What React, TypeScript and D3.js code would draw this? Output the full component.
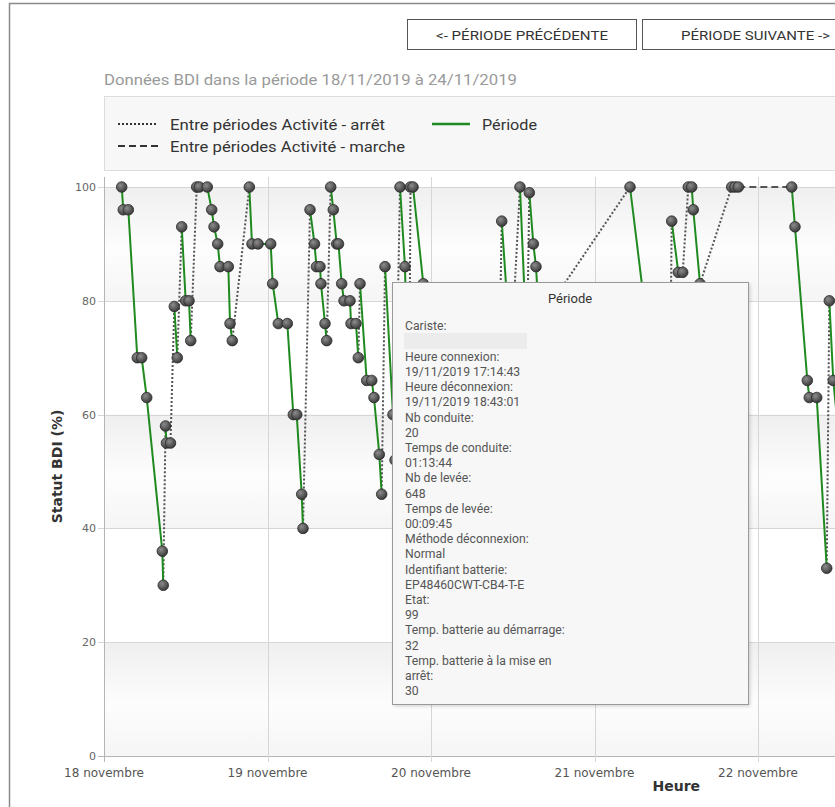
import React from 'react';
import * as d3 from 'd3';

// ---------- DATA ----------
const startDate = new Date(2019, 10, 18, 0, 0, 0);
const dayLabels = ['18 novembre', '19 novembre', '20 novembre', '21 novembre', '22 novembre'];
const yTickValues = [0, 20, 40, 60, 80, 100];

// each period: [hours since 18/11/2019 00:00, BDI %]
const period01: [number, number][] = [[2.60, 100], [2.83, 96], [3.57, 96], [4.89, 70], [5.53, 70], [6.27, 63], [8.56, 36], [8.70, 30]];
const period02: [number, number][] = [[9.03, 58], [9.17, 55], [9.76, 55]];
const period03: [number, number][] = [[10.32, 79], [10.76, 70]];
const period04: [number, number][] = [[11.41, 93], [11.99, 80], [12.48, 80], [12.73, 73]];
const period05: [number, number][] = [[13.61, 100], [13.99, 100], [15.16, 100], [15.81, 96], [16.15, 93], [16.69, 90], [17.03, 86], [18.25, 86], [18.50, 76], [18.83, 73]];
const period06: [number, number][] = [[21.33, 100], [21.72, 90], [22.61, 90], [24.47, 90], [24.76, 83], [25.59, 76], [26.91, 76], [27.79, 60], [28.29, 60], [29.02, 46], [29.21, 40]];
const period07: [number, number][] = [[30.24, 96], [30.90, 90], [31.19, 86], [31.71, 86], [31.85, 83], [32.44, 76], [32.69, 73]];
const period08: [number, number][] = [[33.28, 100], [33.66, 96], [34.16, 90], [34.42, 90], [34.89, 83], [35.23, 80], [36.11, 80], [36.26, 76], [36.99, 76], [37.33, 70]];
const period09: [number, number][] = [[37.58, 83], [38.56, 66], [39.30, 66], [39.63, 63], [40.41, 53], [40.76, 46]];
const period10: [number, number][] = [[41.25, 86], [42.42, 60], [42.72, 52]];
const period11: [number, number][] = [[43.45, 100], [44.18, 86], [44.77, 55]];
const period12: [number, number][] = [[44.99, 100], [45.36, 100], [46.87, 83], [49.32, 40]];
const period13: [number, number][] = [[51.52, 78], [57.69, 45]];
const period14: [number, number][] = [[58.38, 94], [59.74, 70]];
const period15: [number, number][] = [[61.06, 100], [62.09, 71]];
const period16: [number, number][] = [[62.43, 99], [63.02, 90], [63.41, 86], [63.71, 80], [65.32, 79]];
const period17: [number, number][] = [[77.21, 100], [82.94, 44]];
const period18: [number, number][] = [[83.33, 94], [84.30, 85], [84.95, 85]];
const period19: [number, number][] = [[85.77, 100], [86.27, 100], [86.50, 96], [87.49, 83]];
const period20: [number, number][] = [[92.14, 100], [92.62, 100], [93.11, 100]];
const period21: [number, number][] = [[100.95, 100], [101.43, 93], [103.24, 66], [103.53, 63], [104.62, 63], [106.09, 33]];
const period22: [number, number][] = [[106.47, 80], [107.05, 66], [108.77, 45]];

const periods = [period01, period02, period03, period04, period05, period06, period07, period08, period09, period10, period11,
  period12, period13, period14, period15, period16, period17, period18, period19, period20, period21, period22];

// link between period i and i+1 : 'arret' (dotted) or 'marche' (dashed)
const gapTypes = ['arret', 'arret', 'arret', 'arret', 'arret', 'arret', 'arret', 'arret', 'arret', 'arret', 'arret',
  'arret', 'arret', 'arret', 'arret', 'arret', 'arret', 'arret', 'arret', 'marche', 'arret'];

const tooltipLines = [
  'Cariste:', '', 'Heure connexion:', '19/11/2019 17:14:43', 'Heure déconnexion:', '19/11/2019 18:43:01',
  'Nb conduite:', '20', 'Temps de conduite:', '01:13:44', 'Nb de levée:', '648', 'Temps de levée:', '00:09:45',
  'Méthode déconnexion:', 'Normal', 'Identifiant batterie:', 'EP48460CWT-CB4-T-E', 'Etat:', '99',
  'Temp. batterie au démarrage:', '32', 'Temp. batterie à la mise en', 'arrêt:', '30',
];

const titleText = 'Données BDI dans la période 18/11/2019 à 24/11/2019';
const legendArret = 'Entre périodes Activité - arrêt';
const legendMarche = 'Entre périodes Activité - marche';
const legendPeriode = 'Période';
const btnPrev = '<- PÉRIODE PRÉCÉDENTE';
const btnNext = 'PÉRIODE SUIVANTE ->';

// ---------- CHART ----------
const hoursToDate = (h: number) => new Date(startDate.getTime() + h * 3600 * 1000);

export default function App() {
  const W = 835, H = 807;
  const plotL = 104, plotR = 1248.5, plotT = 177, plotB = 756;
  const x = d3.scaleTime().domain([startDate, hoursToDate(24 * 7)]).range([plotL, plotR]);
  const y = d3.scaleLinear().domain([0, 100]).range([plotB, 187]);
  const px = (d: [number, number]) => x(hoursToDate(d[0]));
  const py = (d: [number, number]) => y(d[1]);
  const line = d3.line<[number, number]>().x(px).y(py);

  const gaps = gapTypes.map((t, i) => {
    const a = periods[i][periods[i].length - 1];
    const b = periods[i + 1][0];
    return { t, a, b };
  });

  const bands = [[80, 100], [40, 60], [0, 20]];
  const dayTicks = d3.range(0, 8).map(i => hoursToDate(i * 24));

  const sans = 'Roboto, "Open Sans", sans-serif';
  const axisFont = '"DejaVu Sans", Verdana, sans-serif';

  const tipX = 392, tipY = 282, tipW = 356, tipH = 422;
  const lineStart = 326, lineStep = 15.2;

  return (
    <svg width={W} height={H} style={{ position: 'absolute', left: 0, top: 0, background: '#fff' }}>
      <defs>
        <linearGradient id="band" x1="0" y1="0" x2="0" y2="1">
          <stop offset="0" stopColor="#efefef" />
          <stop offset="0.55" stopColor="#fdfdfd" />
          <stop offset="1" stopColor="#f5f5f5" />
        </linearGradient>
        <radialGradient id="dot" cx="0.38" cy="0.35" r="0.7">
          <stop offset="0" stopColor="#8c8c8c" />
          <stop offset="1" stopColor="#343434" />
        </radialGradient>
        <clipPath id="plotClip">
          <rect x={plotL} y={plotT - 8} width={plotR - plotL + 8} height={plotB - plotT + 16} />
        </clipPath>
        <filter id="shadow" x="-5%" y="-5%" width="115%" height="115%">
          <feDropShadow dx="1.5" dy="1.5" stdDeviation="1.5" floodColor="#000" floodOpacity="0.15" />
        </filter>
      </defs>

      {/* page container border */}
      <rect x={9.5} y={3.5} width={2000} height={2000} fill="none" stroke="#8a8a8a" strokeWidth={1.5} />

      {/* buttons */}
      <rect x={407.5} y={19.5} width={229} height={30} fill="#fff" stroke="#555" strokeWidth={1} />
      <text x={522} y={39.5} textAnchor="middle" fontFamily={sans} fontSize={13} fill="#333"
        textLength={172} lengthAdjust="spacingAndGlyphs">{btnPrev}</text>
      <rect x={642.5} y={19.5} width={227} height={30} fill="#fff" stroke="#555" strokeWidth={1} />
      <text x={755.5} y={39.5} textAnchor="middle" fontFamily={sans} fontSize={13} fill="#333"
        textLength={149} lengthAdjust="spacingAndGlyphs">{btnNext}</text>

      {/* title */}
      <text x={104} y={85} fontFamily={sans} fontSize={15.5} fill="#9a9a9a"
        textLength={413} lengthAdjust="spacingAndGlyphs">{titleText}</text>

      {/* legend */}
      <rect x={104.5} y={96.5} width={1143} height={74} fill="#f7f7f7" stroke="#dcdcdc" strokeWidth={1} />
      <line x1={118} x2={158} y1={124} y2={124} stroke="#333" strokeWidth={2} strokeDasharray="2,2" />
      <text x={170} y={129.5} fontFamily={sans} fontSize={15.5} fill="#333"
        textLength={215} lengthAdjust="spacingAndGlyphs">{legendArret}</text>
      <line x1={432} x2={470} y1={124} y2={124} stroke="#1f8a1f" strokeWidth={2.5} />
      <text x={482} y={129.5} fontFamily={sans} fontSize={15.5} fill="#333"
        textLength={55} lengthAdjust="spacingAndGlyphs">{legendPeriode}</text>
      <line x1={118} x2={158} y1={146} y2={146} stroke="#333" strokeWidth={2} strokeDasharray="7,4" />
      <text x={170} y={151.5} fontFamily={sans} fontSize={15.5} fill="#333"
        textLength={235} lengthAdjust="spacingAndGlyphs">{legendMarche}</text>

      {/* plot background */}
      <rect x={plotL} y={plotT} width={plotR - plotL} height={plotB - plotT} fill="#fff" />
      {bands.map(([a, b]) => (
        <rect key={a} x={plotL} y={y(b)} width={plotR - plotL} height={y(a) - y(b)} fill="url(#band)" />
      ))}
      {yTickValues.map(v => (
        <line key={v} x1={plotL - 6} x2={plotR} y1={Math.round(y(v)) + 0.5} y2={Math.round(y(v)) + 0.5}
          stroke={v === 0 ? '#b5b5b5' : '#d6d6d6'} strokeWidth={1} />
      ))}
      {dayTicks.map((d, i) => (
        <line key={i} x1={Math.round(x(d)) + 0.5} x2={Math.round(x(d)) + 0.5} y1={plotT} y2={plotB + 6}
          stroke={i === 0 ? '#b5b5b5' : '#d6d6d6'} strokeWidth={1} />
      ))}
      <line x1={plotL + 0.5} x2={plotL + 0.5} y1={plotT} y2={plotB} stroke="#b5b5b5" strokeWidth={1} />

      {/* y labels */}
      {yTickValues.map(v => (
        <text key={v} x={96} y={y(v) + 4} textAnchor="end" fontFamily={axisFont} fontSize={11} fill="#666">{v}</text>
      ))}
      {/* x labels (those inside the visible frame) */}
      {dayLabels.map((lab, i) => (
        <text key={i} x={x(dayTicks[i])} y={777} textAnchor="middle" fontFamily={axisFont} fontSize={12} fill="#555">{lab}</text>
      ))}
      <text transform={`translate(62,${(plotT + plotB) / 2}) rotate(-90)`} textAnchor="middle"
        fontFamily={axisFont} fontWeight="bold" fontSize={14} fill="#333">Statut BDI (%)</text>
      <text x={(plotL + plotR) / 2} y={791} textAnchor="middle" fontFamily={axisFont} fontWeight="bold"
        fontSize={14} fill="#333">Heure</text>

      {/* series */}
      <g clipPath="url(#plotClip)">
        {gaps.map((g, i) => (
          <line key={'g' + i} x1={px(g.a)} y1={py(g.a)} x2={px(g.b)} y2={py(g.b)}
            stroke="#555" strokeWidth={2} strokeDasharray={g.t === 'marche' ? '7,4' : '2,2'} />
        ))}
        {periods.map((p, i) => (
          <path key={'p' + i} d={line(p) || ''} fill="none" stroke="#1f8a1f" strokeWidth={2} />
        ))}
        {periods.map((p, i) => p.map((d, j) => (
          <circle key={`c${i}-${j}`} cx={px(d)} cy={py(d)} r={5.3} fill="url(#dot)" stroke="#2a2a2a" strokeWidth={0.8} />
        )))}
      </g>

      {/* tooltip */}
      <g>
        <rect x={tipX + 0.5} y={tipY + 0.5} width={tipW} height={tipH} fill="#f7f7f7"
          stroke="#9a9a9a" strokeWidth={1} filter="url(#shadow)" />
        <text x={tipX + tipW / 2} y={303} textAnchor="middle" fontFamily={sans} fontSize={13} fill="#333">{legendPeriode}</text>
        <rect x={404} y={333} width={123} height={16} fill="#ececec" />
        <g transform={`translate(405,0) scale(0.94,1)`}>
          {tooltipLines.map((t, i) => (
            <text key={i} x={0} y={lineStart + i * lineStep + 4.5} fontFamily={sans} fontSize={13} fill="#555">{t}</text>
          ))}
        </g>
      </g>
    </svg>
  );
}
